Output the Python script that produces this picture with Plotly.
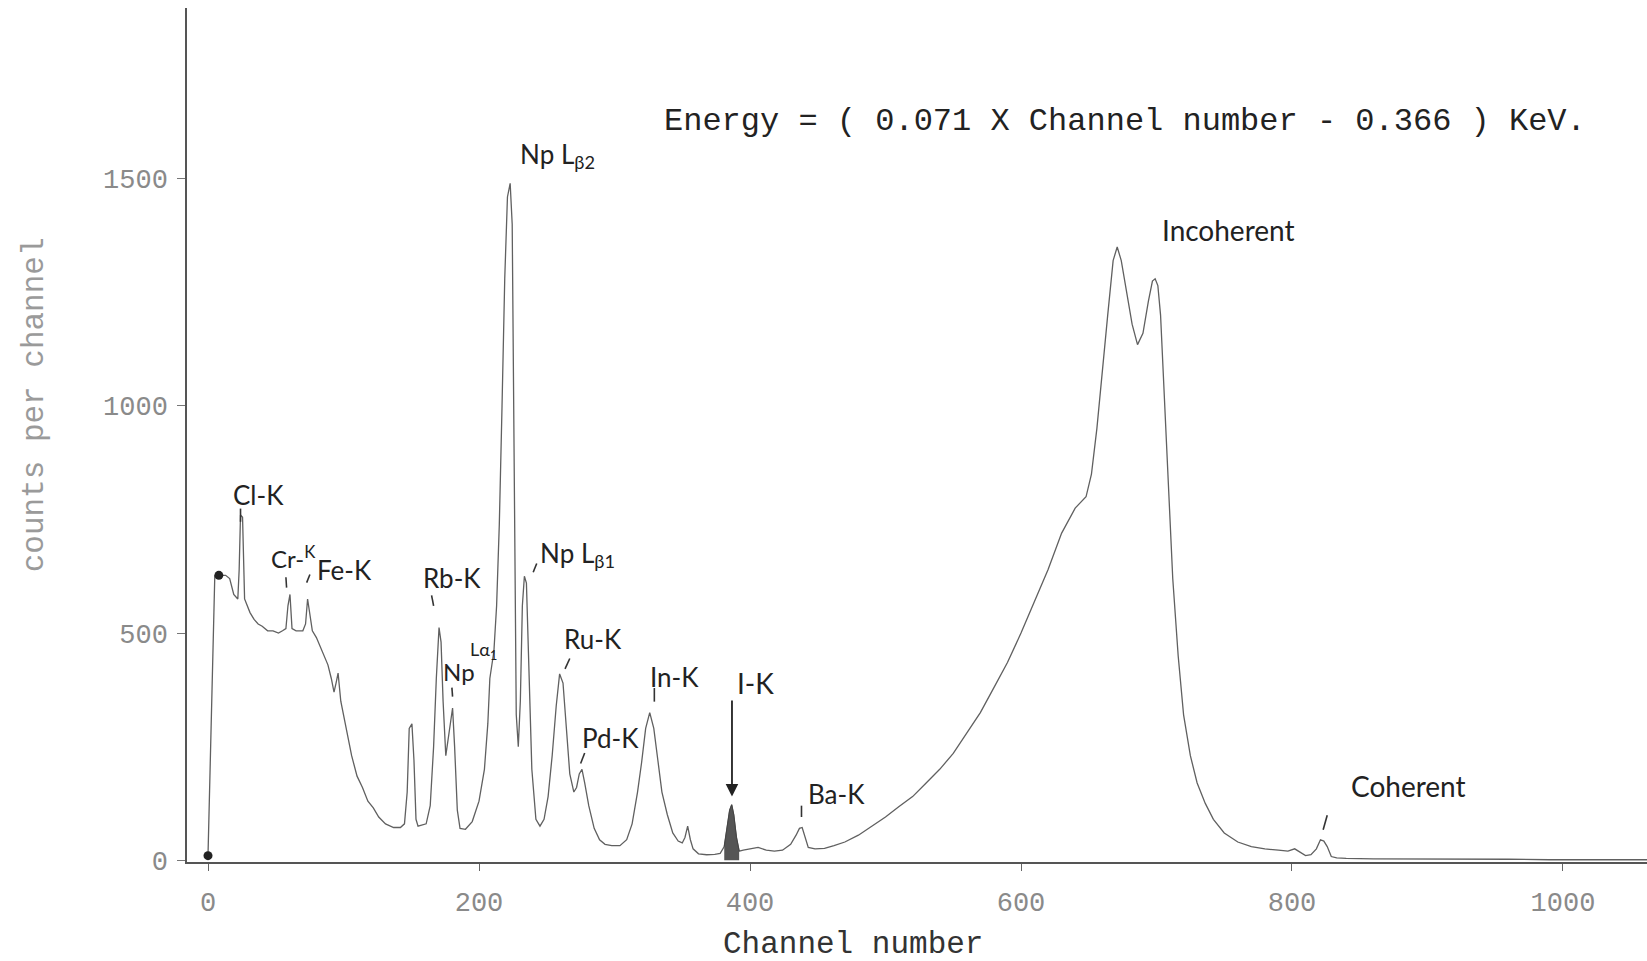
import plotly.graph_objects as go

# ---- spectrum data ----
channels = [0, 5, 8, 13, 16, 19, 22, 23, 24, 25.5, 27, 29, 31, 34, 37, 40, 44, 48, 52, 55,
            57.5, 59, 60.5, 62, 65, 70, 72, 73.5, 75, 77, 80, 83, 86, 88.5, 91, 93, 94.5, 96,
            98, 100, 102.5, 106, 110, 114, 118, 122, 126, 131, 137, 142, 145, 147, 148.5,
            150.5, 152, 153.5, 155, 158, 161, 164, 166.5, 168.5, 170.5, 172, 173.5, 175.5,
            177, 179, 180.5, 182, 184, 186, 190, 195, 200, 204, 206.5, 208, 211, 213, 215,
            217, 219, 221, 223, 224.5, 226, 227.5, 229, 230.5, 232, 233.5, 235, 237, 239,
            242, 245, 248, 251, 254, 257, 259.5, 262, 264.5, 267, 270, 272, 274, 276, 278,
            281, 285, 289, 293, 298, 304, 309, 313, 317, 320, 323, 326, 329, 332, 335, 339,
            343, 347, 350, 352, 354, 356, 358, 362, 368, 374, 378, 381, 383, 385, 386.5, 388,
            390, 392, 395, 400, 406, 412, 418, 424, 430, 434, 436.5, 438.5, 440.5, 443, 448,
            455, 462, 470, 480, 490, 500, 510, 520, 530, 540, 550, 560, 570, 580, 590, 600,
            610, 620, 630, 640, 648, 652, 656, 660, 664, 668, 671, 674, 678, 682, 686, 690,
            694, 697, 699, 701, 703, 706, 709, 712, 716, 720, 725, 730, 736, 742, 750, 760,
            770, 780, 790, 797, 802, 806, 810, 814, 818, 821, 823.5, 826, 829, 833, 840, 860,
            880, 900, 930, 960, 990, 1020, 1050, 1062]
counts = [10, 625, 627, 627, 620, 585, 575, 640, 760, 755, 575, 560, 545, 530, 520, 515, 505,
          505, 500, 505, 510, 560, 585, 510, 505, 505, 520, 575, 540, 505, 490, 470, 450, 430,
          400, 370, 390, 412, 350, 320, 280, 230, 185, 160, 130, 115, 95, 80, 72, 72, 80, 150,
          290, 300, 220, 90, 75, 78, 80, 120, 250, 400, 512, 480, 350, 230, 260, 300, 335, 250,
          110, 70, 68, 85, 130, 200, 300, 400, 460, 560, 740, 1000, 1280, 1460, 1490, 1400, 900,
          320, 250, 350, 560, 625, 610, 420, 200, 90, 75, 90, 140, 230, 340, 410, 390, 290, 190,
          150, 160, 190, 200, 170, 120, 70, 45, 35, 32, 32, 45, 80, 150, 215, 290, 325, 290, 220,
          150, 100, 60, 42, 38, 50, 75, 45, 25, 14, 12, 13, 15, 30, 70, 110, 122, 100, 50, 20,
          22, 25, 28, 22, 20, 22, 35, 55, 70, 72, 50, 28, 25, 26, 32, 40, 55, 75, 95, 118, 140,
          170, 200, 235, 280, 325, 380, 435, 500, 570, 640, 720, 775, 800, 850, 950, 1080, 1200,
          1320, 1350, 1320, 1250, 1180, 1135, 1160, 1230, 1275, 1280, 1265, 1200, 1000, 800, 620,
          450, 320, 230, 170, 125, 90, 60, 40, 30, 25, 22, 20, 25, 18, 10, 12, 25, 45, 42, 30, 8,
          5, 4, 3, 3, 2, 2, 2, 1, 1, 1, 1]

dot_channels = [0, 8]
dot_counts = [10, 627]

iodine_range = [380, 393]

x_ticks = [0, 200, 400, 600, 800, 1000]
y_ticks = [0, 500, 1000, 1500]

# peak labels: text, channel, counts, font size
labels = [
    ("Cl-K", 37, 803, 26),
    ("Cr-<sup>K</sup>", 63, 668, 24),
    ("Fe-K", 101, 638, 26),
    ("Rb-K", 180, 622, 26),
    ("Np", 185, 415, 24),
    ("Lα<sub>1</sub>", 203, 462, 18),
    ("Np L<sub>β2</sub>", 258, 1552, 26),
    ("Np L<sub>β1</sub>", 273, 672, 26),
    ("Ru-K", 284, 488, 26),
    ("Pd-K", 297, 269, 26),
    ("In-K", 344, 404, 26),
    ("I-K", 404, 390, 28),
    ("Ba-K", 464, 145, 26),
    ("Incoherent", 753, 1388, 28),
    ("Coherent", 886, 163, 28),
]

# short pointer strokes: (ch0, c0, ch1, c1)
strokes = [
    (24, 774, 24, 745),
    (57.5, 623, 58, 600),
    (72.8, 611, 75.2, 629),
    (165, 583, 166.5, 560),
    (180, 380, 180.5, 360),
    (240, 634, 242.6, 653),
    (263.5, 421, 267, 444),
    (275, 213, 278, 236),
    (329.4, 379, 329.4, 349),
    (438, 120, 438, 95),
    (823, 67, 826, 99),
]

fig = go.Figure()

fig.add_trace(go.Scatter(
    x=channels, y=counts, mode="lines",
    line=dict(color="#606060", width=1.3),
    hoverinfo="x+y", showlegend=False))

ix = [c for c in channels if iodine_range[0] <= c <= iodine_range[1]]
iy = [counts[channels.index(c)] for c in ix]
fig.add_trace(go.Scatter(
    x=ix, y=iy, mode="lines", fill="tozeroy",
    fillcolor="#555555", line=dict(color="#444", width=1),
    showlegend=False, hoverinfo="skip"))

fig.add_trace(go.Scatter(
    x=dot_channels, y=dot_counts, mode="markers",
    marker=dict(color="#222", size=9),
    showlegend=False, hoverinfo="skip"))

hand_font = "Lato, 'Open Sans', sans-serif"
for txt, cx, cy, fs in labels:
    fig.add_annotation(x=cx, y=cy, xref="x", yref="y", text=txt, showarrow=False,
                       font=dict(family=hand_font, size=fs, color="#222"))

for x0, y0, x1, y1 in strokes:
    fig.add_shape(type="line", x0=x0, y0=y0, x1=x1, y1=y1, xref="x", yref="y",
                  line=dict(color="#333", width=1.6))

# I-K arrow
fig.add_annotation(x=386.7, y=140, ax=386.7, ay=355, xref="x", yref="y",
                   axref="x", ayref="y", text="", showarrow=True,
                   arrowhead=2, arrowsize=1.4, arrowwidth=1.8, arrowcolor="#222")

# Energy calibration text
fig.add_annotation(x=677, y=1626, xref="x", yref="y",
                   text="Energy = ( 0.071 X Channel number - 0.366 ) KeV.",
                   showarrow=False,
                   font=dict(family="'Liberation Mono', 'DejaVu Sans Mono', monospace",
                             size=32, color="#222"))

# axis titles
fig.add_annotation(x=-0.118, y=0.535, xref="paper", yref="paper",
                   text="counts per channel", textangle=-90, showarrow=False,
                   font=dict(family="'Liberation Mono', monospace", size=31, color="#9a9a9a"))
fig.add_annotation(x=0.456, y=-0.12, xref="paper", yref="paper",
                   text="Channel number", showarrow=False,
                   font=dict(family="'Liberation Mono', monospace", size=31, color="#333"))

tick_font = dict(family="'Liberation Mono', 'DejaVu Sans Mono', monospace", size=27,
                 color="#8a8a8a")

fig.update_layout(
    width=1647, height=961,
    margin=dict(l=187, r=0, t=8, b=99),
    plot_bgcolor="white", paper_bgcolor="white",
    xaxis=dict(range=[-15.5, 1062], tickvals=x_ticks, ticktext=[str(v) for v in x_ticks],
               showgrid=False, zeroline=False, showline=True, linecolor="#555",
               linewidth=1.5, ticks="outside", ticklen=7, tickcolor="#666",
               tickfont=tick_font, ticklabelstandoff=8),
    yaxis=dict(range=[-4, 1876], tickvals=y_ticks, ticktext=[str(v) for v in y_ticks],
               showgrid=False, zeroline=False, showline=True, linecolor="#555",
               linewidth=1.5, ticks="outside", ticklen=8, tickcolor="#777",
               tickfont=tick_font, ticklabelstandoff=4),
)

fig.write_html("out.html")
